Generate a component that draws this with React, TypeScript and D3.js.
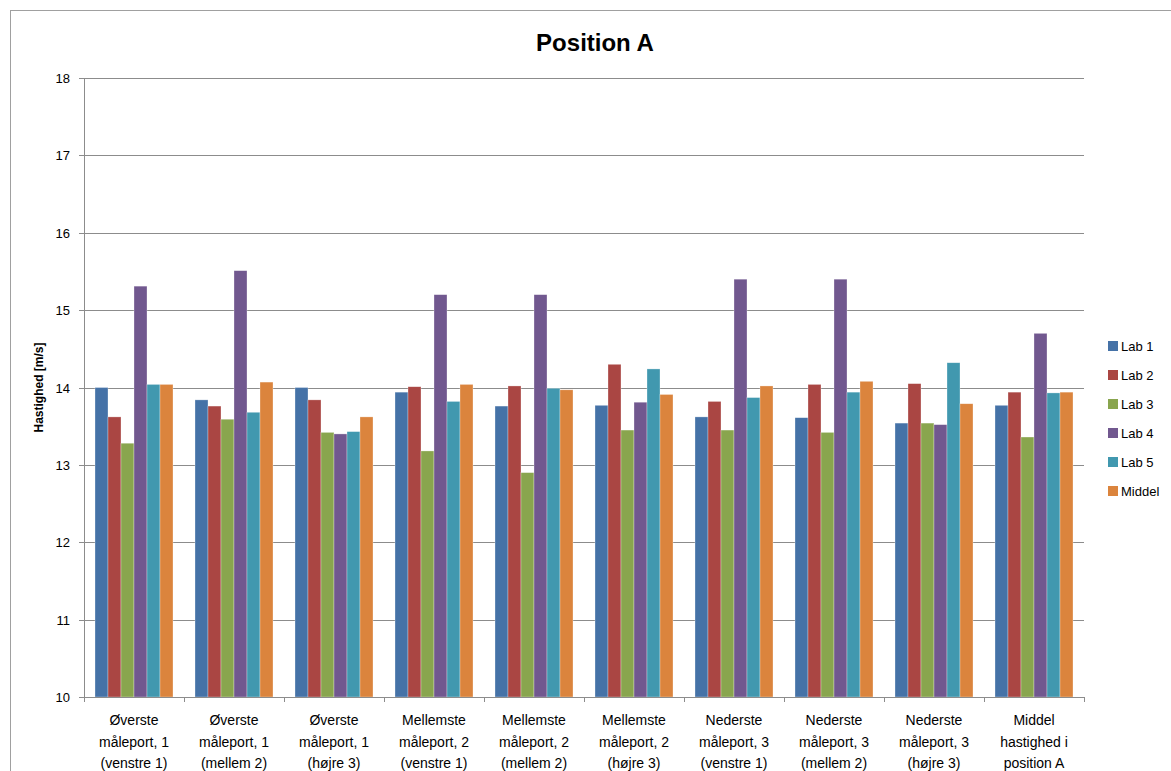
import React from "react";
import * as d3 from "d3";

const categories: string[][] = [
  ["Øverste", "måleport, 1", "(venstre 1)"],
  ["Øverste", "måleport, 1", "(mellem 2)"],
  ["Øverste", "måleport, 1", "(højre 3)"],
  ["Mellemste", "måleport, 2", "(venstre 1)"],
  ["Mellemste", "måleport, 2", "(mellem 2)"],
  ["Mellemste", "måleport, 2", "(højre 3)"],
  ["Nederste", "måleport, 3", "(venstre 1)"],
  ["Nederste", "måleport, 3", "(mellem 2)"],
  ["Nederste", "måleport, 3", "(højre 3)"],
  ["Middel", "hastighed i", "position A"],
];

const seriesNames = ["Lab 1", "Lab 2", "Lab 3", "Lab 4", "Lab 5", "Middel"];
const seriesColors = ["#4572A7", "#AA4643", "#89A54E", "#71588F", "#4198AF", "#DB843D"];

const lab1 = [14.0, 13.84, 14.0, 13.94, 13.76, 13.77, 13.62, 13.61, 13.54, 13.77];
const lab2 = [13.62, 13.76, 13.84, 14.01, 14.02, 14.3, 13.82, 14.04, 14.05, 13.94];
const lab3 = [13.28, 13.59, 13.42, 13.18, 12.9, 13.45, 13.45, 13.42, 13.54, 13.36];
const lab4 = [15.31, 15.51, 13.4, 15.2, 15.2, 13.81, 15.4, 15.4, 13.52, 14.7];
const lab5 = [14.04, 13.68, 13.43, 13.82, 13.99, 14.24, 13.87, 13.94, 14.32, 13.93];
const middel = [14.04, 14.07, 13.62, 14.04, 13.97, 13.91, 14.02, 14.08, 13.79, 13.94];
const series = [lab1, lab2, lab3, lab4, lab5, middel];

const yTicks = [10, 11, 12, 13, 14, 15, 16, 17, 18];

export default function App() {
  const W = 1171, H = 771;
  const left = 84, right = 1084, top = 78, bottom = 697;
  const y = d3.scaleLinear().domain([10, 18]).range([bottom, top]);
  const x0 = d3.scaleBand<number>().domain(d3.range(categories.length)).range([left, right]).paddingInner(0.22).paddingOuter(0.11);
  const x1 = d3.scaleBand<number>().domain(d3.range(series.length)).range([0, x0.bandwidth()]);
  const font = "'Liberation Sans', Arial, sans-serif";
  const step = x0.step();

  return (
    <svg width={W} height={H} style={{ position: "absolute", left: 0, top: 0, background: "#fff" }} fontFamily={font}>
      <rect x={10.5} y={10.5} width={W + 10} height={H + 10} fill="#fff" stroke="#A0A0A0" strokeWidth={1} />
      <text x={595} y={51} textAnchor="middle" fontSize={24} fontWeight="bold" fill="#000">Position A</text>
      {yTicks.map((t) => (
        <g key={t}>
          {t > 10 && <line x1={left} x2={right} y1={Math.round(y(t)) + 0.5} y2={Math.round(y(t)) + 0.5} stroke="#8C8C8C" strokeWidth={1} />}
          <line x1={left - 5} x2={left} y1={Math.round(y(t)) + 0.5} y2={Math.round(y(t)) + 0.5} stroke="#8C8C8C" />
          <text x={left - 14} y={y(t) + 5} textAnchor="end" fontSize={13} fill="#000">{t}</text>
        </g>
      ))}
      {series.map((vals, si) =>
        vals.map((v, ci) => (
          <rect key={`${si}-${ci}`} x={(x0(ci) as number) + (x1(si) as number)} y={y(v)} width={x1.bandwidth()} height={y(10) - y(v)} fill={seriesColors[si]} stroke="#fff" strokeOpacity={0.5} strokeWidth={0.6} />
        ))
      )}
      <line x1={left + 0.5} x2={left + 0.5} y1={top} y2={bottom} stroke="#8C8C8C" />
      <line x1={left} x2={right} y1={bottom + 0.5} y2={bottom + 0.5} stroke="#8C8C8C" />
      {d3.range(categories.length + 1).map((i) => (
        <line key={i} x1={Math.round(left + i * step) + 0.5} x2={Math.round(left + i * step) + 0.5} y1={bottom} y2={bottom + 5} stroke="#8C8C8C" />
      ))}
      {categories.map((lines, ci) => (
        <text key={ci} textAnchor="middle" fontSize={14} fill="#000">
          {lines.map((l, li) => (
            <tspan key={li} x={(x0(ci) as number) + x0.bandwidth() / 2} y={725 + li * 21.5}>{l}</tspan>
          ))}
        </text>
      ))}
      <text transform={`translate(43,${(top + bottom) / 2}) rotate(-90)`} textAnchor="middle" fontSize={12} fontWeight="bold" fill="#000">Hastighed [m/s]</text>
      {seriesNames.map((n, i) => (
        <g key={n}>
          <rect x={1108} y={341 + i * 29} width={10} height={10} fill={seriesColors[i]} />
          <text x={1121} y={351 + i * 29} fontSize={13} fill="#000">{n}</text>
        </g>
      ))}
    </svg>
  );
}
